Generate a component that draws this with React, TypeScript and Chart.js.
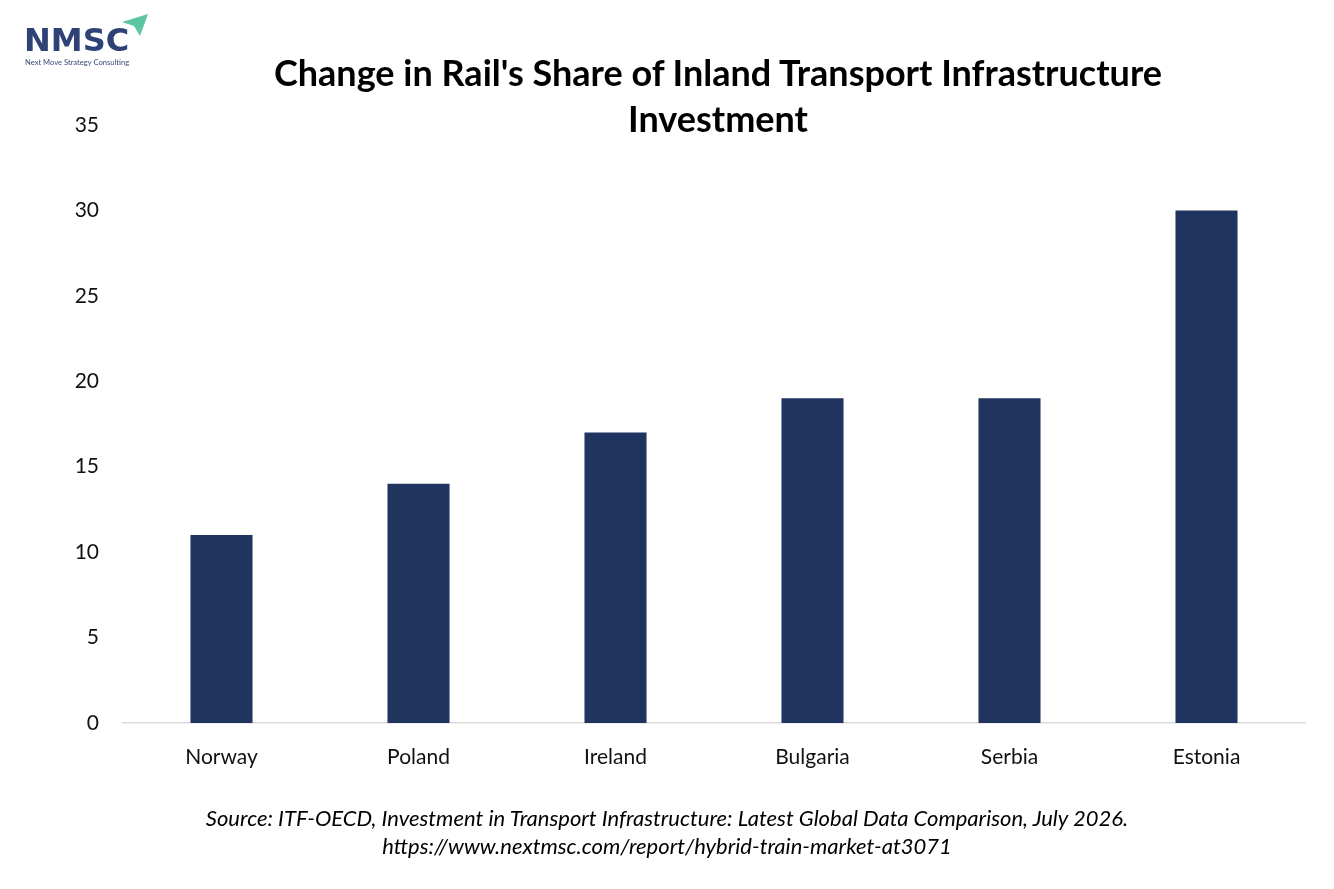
import React, { useEffect, useRef } from "react";
import { Chart, registerables } from "chart.js";

Chart.register(...registerables);

const categories = ["Norway", "Poland", "Ireland", "Bulgaria", "Serbia", "Estonia"];
const values = [11, 14, 17, 19, 19, 30];
const yMax = 35;
const yStep = 5;

const titleLines = ["Change in Rail's Share of Inland Transport Infrastructure", "Investment"];
const sourceLines = [
  "Source: ITF-OECD, Investment in Transport Infrastructure: Latest Global Data Comparison, July 2026.",
  "https://www.nextmsc.com/report/hybrid-train-market-at3071",
];

const FONT = "Lato, 'Noto Sans', sans-serif";

export default function App() {
  const ref = useRef<HTMLCanvasElement | null>(null);

  useEffect(() => {
    if (!ref.current) return;
    const chart = new Chart(ref.current, {
      type: "bar",
      data: {
        labels: categories,
        datasets: [
          {
            data: values,
            backgroundColor: "#1F3560",
            barPercentage: 0.63,
            categoryPercentage: 0.5,
          },
        ],
      },
      options: {
        animation: false,
        responsive: false,
        maintainAspectRatio: false,
        layout: { padding: { left: 0, right: 29, top: 125, bottom: 0 } },
        plugins: { legend: { display: false }, title: { display: false }, tooltip: { enabled: false } },
        scales: {
          x: {
            grid: { display: false, drawTicks: false },
            border: { display: true, color: "#D9D9D9", width: 1.5 },
            ticks: { color: "#111", font: { family: FONT, size: 21 }, padding: 22 },
            afterFit: (s: any) => {
              s.height = 166;
            },
          },
          y: {
            min: 0,
            max: yMax,
            grid: { display: false, drawTicks: false },
            border: { display: false },
            ticks: { stepSize: yStep, color: "#111", font: { family: FONT, size: 21 }, padding: 24 },
            afterFit: (s: any) => {
              s.width = 123;
            },
          },
        },
      },
    });
    return () => chart.destroy();
  }, []);

  return (
    <div style={{ position: "fixed", left: 0, top: 0, width: 1334, height: 889, background: "#fff", overflow: "hidden" }}>
      <canvas ref={ref} width={1334} height={889} style={{ position: "absolute", left: 0, top: 0 }} />
      <div style={{ position: "absolute", left: 22, top: 10, width: 140, height: 60 }}>
        <svg width="140" height="60" style={{ position: "absolute", left: 0, top: 0 }}>
          <polygon points="100,12 126,4 118,26 112,16" fill="#5cc6a0" />
        </svg>
        <div
          style={{
            position: "absolute",
            left: 2,
            top: 12,
            fontFamily: "'DejaVu Sans', sans-serif",
            fontWeight: 700,
            fontSize: 32,
            letterSpacing: 0,
            color: "#2E4276",
            lineHeight: "36px",
          }}
        >
          NMSC
        </div>
        <div
          style={{
            position: "absolute",
            left: 3,
            top: 47,
            fontFamily: FONT,
            fontSize: 7.6,
            color: "#3a4a78",
            whiteSpace: "nowrap",
          }}
        >
          Next Move Strategy Consulting
        </div>
      </div>
      <div
        style={{
          position: "absolute",
          left: 268,
          width: 900,
          top: 49,
          textAlign: "center",
          fontFamily: FONT,
          fontWeight: 700,
          fontSize: 36,
          lineHeight: "46px",
          color: "#000",
          whiteSpace: "nowrap",
        }}
      >
        {titleLines.map((l, i) => (
          <div key={i}>{l}</div>
        ))}
      </div>
      <div
        style={{
          position: "absolute",
          left: 117,
          width: 1100,
          top: 804,
          textAlign: "center",
          fontFamily: FONT,
          fontStyle: "italic",
          fontSize: 22,
          lineHeight: "28px",
          color: "#000",
          whiteSpace: "nowrap",
        }}
      >
        {sourceLines.map((l, i) => (
          <div key={i}>{l}</div>
        ))}
      </div>
    </div>
  );
}
